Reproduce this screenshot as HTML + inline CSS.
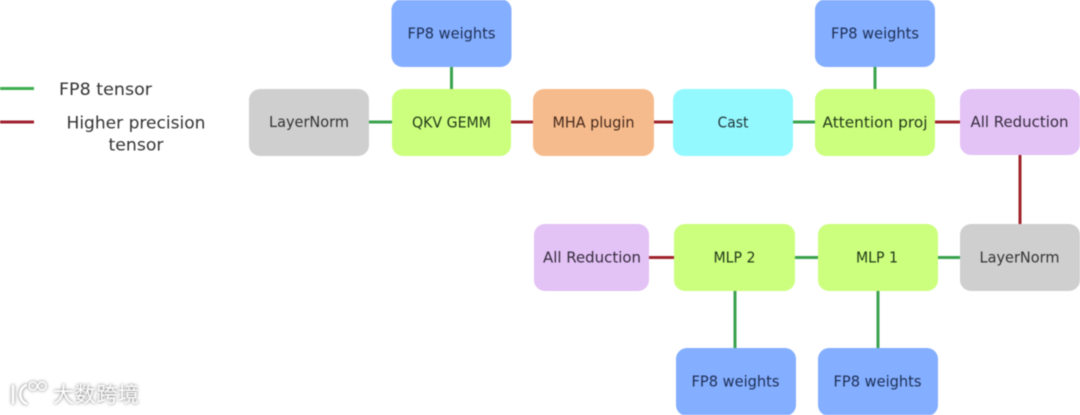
<!DOCTYPE html>
<html>
<head>
<meta charset="utf-8">
<style>
html,body{margin:0;padding:0;background:#fff;width:1080px;height:415px;overflow:hidden}
svg{display:block;filter:blur(.45px)}
text{font-family:"DejaVu Sans","Liberation Sans",sans-serif;font-size:15.5px;fill:#26302b;text-anchor:middle}
.l{font-size:17px;fill:#333}
</style>
</head>
<body>
<svg width="1080" height="415" viewBox="0 0 1080 415" xmlns="http://www.w3.org/2000/svg">
<g stroke-width="3" fill="none">
<path d="M0 88.500H34" stroke="#3fae4f"/>
<path d="M0 122H34" stroke="#a02030"/>
<path d="M369 122H392M451.500 67V89M793 122H815M875 67V89M795 257.500H818M938 257.500H960M735 291V348M878 291V348" stroke="#3aa24e"/>
<path d="M511 122H533M654 122H673M935 122H960M1020 155V224M649 257.500H674" stroke="#a0242c"/>
</g>
<g>
<rect x="249" y="89" width="120" height="67" rx="11" fill="#cfcfcf"/>
<rect x="391.500" y="-1" width="120" height="68" rx="11" fill="#84aeff"/>
<rect x="392" y="89" width="119" height="67" rx="11" fill="#ccff7d"/>
<rect x="533" y="89" width="121" height="67" rx="11" fill="#f6bb8c"/>
<rect x="673" y="89" width="120" height="67" rx="11" fill="#94f8ff"/>
<rect x="815" y="89" width="120" height="67" rx="11" fill="#ccff7d"/>
<rect x="815" y="-1" width="120" height="68" rx="11" fill="#84aeff"/>
<rect x="960" y="89" width="120" height="66" rx="11" fill="#e3c2f5"/>
<rect x="534" y="224" width="115" height="67" rx="11" fill="#e3c2f5"/>
<rect x="674" y="224" width="121" height="67" rx="11" fill="#ccff7d"/>
<rect x="818" y="224" width="120" height="67" rx="11" fill="#ccff7d"/>
<rect x="960" y="224" width="120" height="67" rx="11" fill="#cfcfcf"/>
<rect x="676" y="348" width="120" height="68" rx="11" fill="#84aeff"/>
<rect x="818" y="348" width="120" height="68" rx="11" fill="#84aeff"/>
</g>
<g>
<text x="309" y="127" textLength="80" lengthAdjust="spacingAndGlyphs" style="fill:#333">LayerNorm</text>
<text x="451.500" y="38.500" textLength="88" lengthAdjust="spacingAndGlyphs" style="fill:#1d2f55">FP8 weights</text>
<text x="451.500" y="127.500" textLength="79" lengthAdjust="spacingAndGlyphs" style="fill:#233a1a">QKV GEMM</text>
<text x="593.500" y="127.500" textLength="82" lengthAdjust="spacingAndGlyphs" style="fill:#45291c">MHA plugin</text>
<text x="733" y="127.500" textLength="31" lengthAdjust="spacingAndGlyphs" style="fill:#1f3538">Cast</text>
<text x="875" y="127.500" textLength="105" lengthAdjust="spacingAndGlyphs" style="fill:#233a1a">Attention proj</text>
<text x="875" y="38.500" textLength="88" lengthAdjust="spacingAndGlyphs" style="fill:#1d2f55">FP8 weights</text>
<text x="1019.500" y="127" textLength="98" lengthAdjust="spacingAndGlyphs" style="fill:#352b3e">All Reduction</text>
<text x="592" y="262.500" textLength="98" lengthAdjust="spacingAndGlyphs" style="fill:#352b3e">All Reduction</text>
<text x="734.500" y="262.500" textLength="42" lengthAdjust="spacingAndGlyphs" style="fill:#233a1a">MLP 2</text>
<text x="877" y="262.500" textLength="42" lengthAdjust="spacingAndGlyphs" style="fill:#233a1a">MLP 1</text>
<text x="1019.500" y="262.500" textLength="80" lengthAdjust="spacingAndGlyphs" style="fill:#333">LayerNorm</text>
<text x="735.500" y="386.500" textLength="88" lengthAdjust="spacingAndGlyphs" style="fill:#1d2f55">FP8 weights</text>
<text x="877.500" y="386.500" textLength="88" lengthAdjust="spacingAndGlyphs" style="fill:#1d2f55">FP8 weights</text>
</g>
<g>
<text class="l" x="105.500" y="95" textLength="93" lengthAdjust="spacingAndGlyphs">FP8 tensor</text>
<text class="l" x="136" y="128.500" textLength="139" lengthAdjust="spacingAndGlyphs">Higher precision</text>
<text class="l" x="136" y="150.500" textLength="55" lengthAdjust="spacingAndGlyphs">tensor</text>
</g>
<g style="filter:drop-shadow(0 0 1.500px rgba(0,0,0,.6))">
<path d="M13 385V404M27 385C19 387 17 400 27 404" stroke="#fff" stroke-width="2.500" fill="none"/>
<circle cx="33" cy="386" r="4" fill="none" stroke="#fff" stroke-width="1.500"/>
<circle cx="42" cy="386" r="4" fill="none" stroke="#fff" stroke-width="1.500"/>
<text x="96" y="402" style="font-family:'Liberation Sans','Noto Sans CJK SC',sans-serif;font-size:21px;fill:#fff" textLength="86">大数跨境</text>
</g>
</svg>
</body>
</html>
